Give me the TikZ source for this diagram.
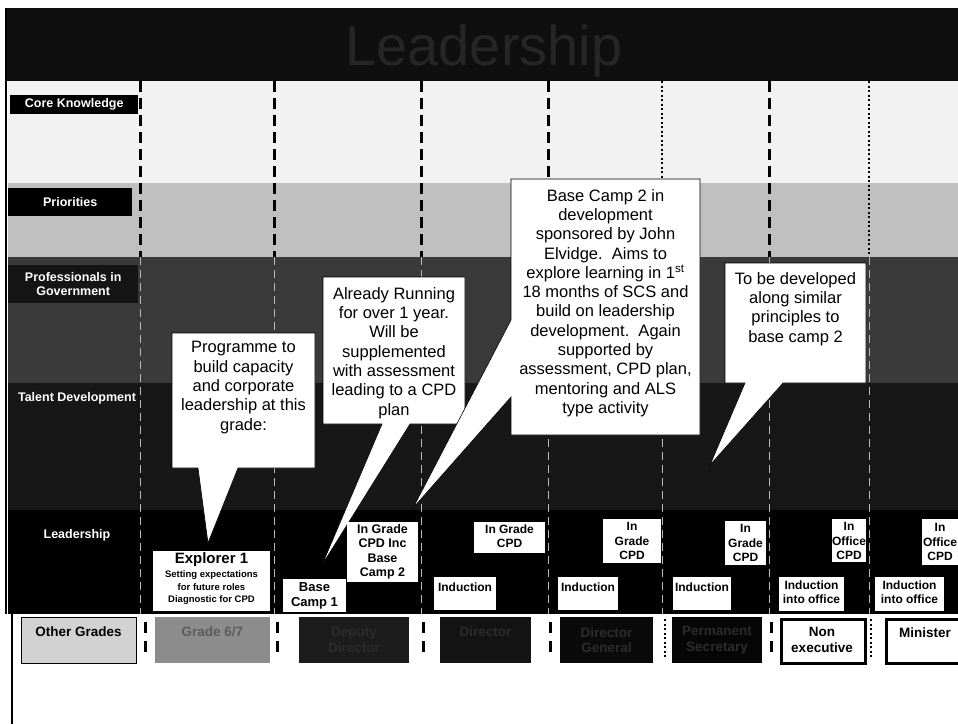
\documentclass[tikz,border=0pt]{standalone}
\usepackage{fontspec}
\setmainfont{Liberation Sans}
\definecolor{ttlbg}{HTML}{0F0F0F}
\definecolor{ttltxt}{HTML}{262626}
\definecolor{ckbg}{HTML}{F2F2F2}
\definecolor{pribg}{HTML}{C0C0C0}
\definecolor{profbg}{HTML}{3A3A3A}
\definecolor{proflbl}{HTML}{151515}
\definecolor{talbg}{HTML}{171717}
\definecolor{othbg}{HTML}{D2D2D2}
\definecolor{gsixbg}{HTML}{8C8C8C}
\definecolor{gsixtx}{HTML}{5C5C5C}
\definecolor{ddbg}{HTML}{1C1C1C}
\definecolor{dirbg}{HTML}{131313}
\definecolor{dgbg}{HTML}{0A0A0A}
\definecolor{psbg}{HTML}{060606}
\definecolor{darktx}{HTML}{2C2C2C}
\begin{document}
\begin{tikzpicture}[x=1pt,y=-1pt,
  lblbox/.style={fill=black, text=white, font=\bfseries\fontsize{12.5}{14.5}\selectfont, align=center, inner sep=0pt},
  lbltxt/.style={text=white, font=\bfseries\fontsize{12.5}{14.5}\selectfont, align=center, inner sep=0pt},
  sepdash/.style={line width=3pt, dash pattern=on 11pt off 6pt},
  sepdot/.style={line width=2.5pt, dash pattern=on 2pt off 2.5pt},
  sepfaint/.style={line width=0.8pt, gray!55, dash pattern=on 8pt off 5pt},
  bubble/.style={fill=white, draw=black, line width=0.6pt},
  bubtxt/.style={font=\fontsize{16.5}{19.3}\selectfont, align=center, inner sep=0pt},
  wbox/.style={fill=white, inner sep=0pt, anchor=north west},
  wtxt/.style={font=\bfseries\fontsize{12}{14.2}\selectfont, align=center, inner sep=0pt},
  gbox/.style={inner sep=0pt, anchor=north west, minimum height=46pt},
  gtxt/.style={font=\bfseries\fontsize{13.5}{15.5}\selectfont, align=center, inner sep=0pt},
]
\useasboundingbox (0,0) rectangle (958,724);
\fill[white] (0,0) rectangle (958,724);

% title bar
\fill[ttlbg] (5,8) rectangle (958,81);
\node[font=\fontsize{56}{60}\selectfont, text=ttltxt, inner sep=0pt, anchor=base] (title) at (484,65) {Leadership};

% rows
\fill[ckbg] (8,81) rectangle (958,183);
\fill[pribg] (8,183) rectangle (958,257);
\fill[profbg] (8,257) rectangle (958,383);
\fill[talbg] (8,383) rectangle (958,510);
\fill[black] (8,510) rectangle (958,614);
\draw[line width=2pt] (6,8) -- (6,614);
\draw[line width=1.2pt] (12,614) -- (12,724);

% row labels
\node[lblbox, minimum width=128pt, minimum height=19pt, anchor=north west] (lck) at (10,95) {Core Knowledge};
\node[lblbox, minimum width=124pt, minimum height=28pt, anchor=north west] (lpri) at (8,188) {Priorities};
\node[lblbox, fill=proflbl, minimum width=130pt, minimum height=38pt, anchor=north west] (lprof) at (8,265) {Professionals in\\Government};
\node[lbltxt] (ltal) at (77,398) {Talent Development};
\node[lbltxt] (llead) at (77,535) {Leadership};

% column separators
\foreach \xx in {140,274,421,548,769} {
  \draw[sepdash] (\xx,81) -- (\xx,257);
  \draw[sepfaint] (\xx,257) -- (\xx,614);
}
\foreach \xx in {662,869} {
  \draw[sepdot] (\xx,81) -- (\xx,257);
  \draw[sepfaint] (\xx,257) -- (\xx,614);
}

% callouts
\draw[bubble] (172,333) -- (315,333) -- (315,468) -- (238,468) -- (208,543) -- (198,468) -- (172,468) -- cycle;
\node[bubtxt] (c1) at (243.5,387.5) {Programme to\\build capacity\\and corporate\\leadership at this\\grade:};

\draw[bubble] (323,277) -- (465,277) -- (465,424) -- (410,424) -- (322,565) -- (382,424) -- (323,424) -- cycle;
\node[bubtxt] (c2) at (394,353) {Already Running\\for over 1 year.\\Will be\\supplemented\\with assessment\\leading to a CPD\\plan};

\draw[bubble] (511,179) -- (700,179) -- (700,435) -- (511,435) -- (511,397) -- (413,508) -- (511,320) -- cycle;
\node[bubtxt] (c3) at (605.5,303) {Base Camp 2 in\\development\\sponsored by John\\Elvidge.\ \ Aims to\\explore learning in 1\textsuperscript{st}\\18 months of SCS and\\build on leadership\\development.\ \ Again\\supported by\\assessment, CPD plan,\\mentoring and ALS\\type activity};

\draw[bubble] (725,263) -- (866,263) -- (866,383) -- (783,383) -- (710,465) -- (745,383) -- (725,383) -- cycle;
\node[bubtxt] (c4) at (795.5,309) {To be developed\\along similar\\principles to\\base camp 2};

% leadership row boxes
\node[wbox, minimum width=117pt, minimum height=60pt] (expl) at (153,551) {};
\node[font=\bfseries\fontsize{15}{17}\selectfont, inner sep=0pt] (explt) at (211.5,560) {Explorer 1};
\node[font=\bfseries\fontsize{9.5}{12.5}\selectfont, align=center, inner sep=0pt] (explsub) at (211.5,588) {Setting expectations\\for future roles\\Diagnostic for CPD};

\node[wbox, minimum width=63pt, minimum height=33pt] (bc1) at (283,579) {};
\node[font=\bfseries\fontsize{13}{15}\selectfont, align=center, inner sep=0pt] (bc1t) at (314.5,596) {Base\\Camp 1};

\node[wbox, minimum width=71pt, minimum height=60pt] (bc2) at (347,522) {};
\node[wtxt, font=\bfseries\fontsize{12.5}{14.5}\selectfont] (bc2t) at (382.5,552) {In Grade\\CPD Inc\\Base\\Camp 2};

\node[wbox, minimum width=71pt, minimum height=31pt] (igc1) at (474,522) {};
\node[wtxt] (igc1t) at (509.5,536) {In Grade\\CPD};
\node[wbox, minimum width=58pt, minimum height=44pt] (igc2) at (603,519) {};
\node[wtxt] (igc2t) at (632,541) {In\\Grade\\CPD};
\node[wbox, minimum width=41pt, minimum height=44pt] (igc3) at (725,521) {};
\node[wtxt] (igc3t) at (745.5,543) {In\\Grade\\CPD};
\node[wbox, minimum width=34pt, minimum height=43pt] (ioc1) at (832,519) {};
\node[wtxt] (ioc1t) at (849,541) {In\\Office\\CPD};
\node[wbox, minimum width=36pt, minimum height=46pt] (ioc2) at (922,519) {};
\node[wtxt] (ioc2t) at (940,542) {In\\Office\\CPD};

\node[wbox, minimum width=62pt, minimum height=33pt] (ind1) at (434,577) {};
\node[wtxt] (ind1t) at (465,587) {Induction};
\node[wbox, minimum width=60pt, minimum height=33pt] (ind2) at (558,577) {};
\node[wtxt] (ind2t) at (588,587) {Induction};
\node[wbox, minimum width=58pt, minimum height=33pt] (ind3) at (673,577) {};
\node[wtxt] (ind3t) at (702,587) {Induction};
\node[wbox, minimum width=65pt, minimum height=34pt] (iio1) at (779,577) {};
\node[wtxt] (iio1t) at (811.5,592.5) {Induction\\into office};
\node[wbox, minimum width=69pt, minimum height=34pt] (iio2) at (875,577) {};
\node[wtxt] (iio2t) at (909.5,592.5) {Induction\\into office};

% grade boxes
\node[gbox, minimum width=115pt, fill=othbg, draw=black, line width=1pt] (gother) at (21,617) {};
\node[gtxt] (gothert) at (78.5,632) {Other Grades};
\node[gbox, minimum width=115pt, fill=gsixbg] (gsix) at (155,617) {};
\node[gtxt, text=gsixtx] (gsixt) at (212.5,632) {Grade 6/7};
\node[gbox, minimum width=110pt, fill=ddbg] (gdd) at (299,617) {};
\node[gtxt, text=darktx] (gddt) at (354,640) {Deputy\\Director};
\node[gbox, minimum width=91pt, fill=dirbg] (gdir) at (440,617) {};
\node[gtxt, text=darktx] (gdirt) at (485.5,632) {Director};
\node[gbox, minimum width=93pt, fill=dgbg] (gdg) at (560,617) {};
\node[gtxt, text=darktx] (gdgt) at (606.5,640) {Director\\General};
\node[gbox, minimum width=90pt, fill=psbg] (gps) at (672,617) {};
\node[gtxt, text=darktx] (gpst) at (717,640) {Permanent\\Secretary};
\node[gbox, minimum width=84pt, minimum height=44pt, fill=white, draw=black, line width=2.5pt] (gne) at (780,618) {};
\node[gtxt] (gnet) at (822,640) {Non\\executive};
\node[gbox, minimum width=90pt, minimum height=44pt, fill=white, draw=black, line width=2.5pt] (gmin) at (885,618) {};
\node[gtxt] (gmint) at (925,633) {Minister};

% bottom separators
\foreach \xx in {145,277,423,550,771} {
  \draw[line width=3pt] (\xx,622) -- (\xx,633);
  \draw[line width=3pt] (\xx,641) -- (\xx,652);
}
\foreach \xx in {665,871} {
  \draw[sepdot] (\xx,619) -- (\xx,657);
}
\end{tikzpicture}
\end{document}
